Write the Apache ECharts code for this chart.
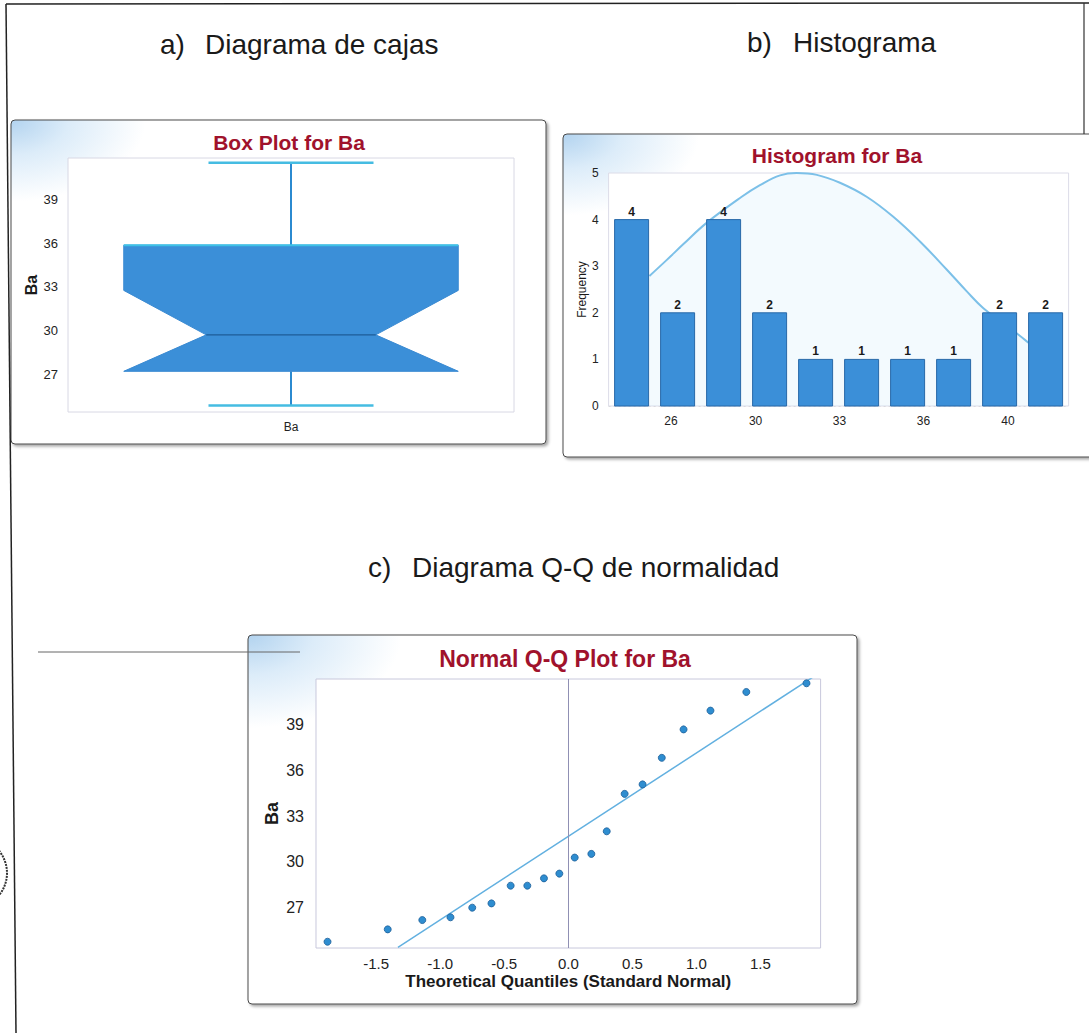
<!DOCTYPE html>
<html>
<head>
<meta charset="utf-8">
<script src="https://cdn.jsdelivr.net/npm/echarts@6/dist/echarts.min.js"></script>
<style>
html,body{margin:0;padding:0;background:#ffffff;}
#c{width:1089px;height:1033px;}
</style>
</head>
<body>
<div id="c"></div>
<script>
// ---------- Data ----------
// a) Box plot for Ba: lower whisker, Q1, notch low, median, notch high, Q3, upper whisker
const boxCategories = ['Ba'];
const boxStats = [24.85, 27.2, 27.2, 29.7, 32.75, 35.85, 41.5];
const boxTicks = [27, 30, 33, 36, 39];

// b) Histogram for Ba
const binEdges = [24.8, 26.49, 28.18, 29.87, 31.56, 33.25, 34.94, 36.63, 38.32, 40.01, 41.7];
const binCounts = [4, 2, 4, 2, 1, 1, 1, 1, 2, 2];
const histTickPos = [27.09, 30.2, 33.28, 36.37, 39.47];
const histTickLabels = ['26', '30', '33', '36', '40'];
const curveX = [26.30, 26.93, 27.54, 28.40, 29.69, 30.36, 31.10, 31.71, 32.45, 33.30, 34.28, 35.26, 36.24, 37.22, 37.96, 38.57, 39.79, 40.22];
const curveY = [2.79, 3.13, 3.47, 3.93, 4.49, 4.74, 4.95, 5.00, 4.96, 4.79, 4.49, 4.06, 3.53, 2.93, 2.46, 2.10, 1.56, 1.36];

// c) Normal Q-Q plot for Ba
const qqTheoretical = [-1.88, -1.41, -1.14, -0.92, -0.75, -0.60, -0.45, -0.32, -0.19, -0.07, 0.05, 0.18, 0.30, 0.44, 0.58, 0.73, 0.90, 1.11, 1.39, 1.86];
const qqBa = [24.77, 25.58, 26.19, 26.37, 27.00, 27.28, 28.44, 28.44, 28.92, 29.23, 30.28, 30.52, 32.00, 34.45, 35.07, 36.81, 38.67, 39.90, 41.12, 41.69];
const qqLineX = [-1.33, 1.92];
const qqLineY = [24.40, 42.15];
const qqXTicks = [-1.5, -1.0, -0.5, 0.0, 0.5, 1.0, 1.5];
const qqYTicks = [27, 30, 33, 36, 39];

// ---------- Styling ----------
const SANS = '"Liberation Sans", Arial, sans-serif';
const NARROW = '"Liberation Sans Narrow", "Arial Narrow", "Liberation Sans", sans-serif';
const TITLE_RED = '#a0122c';
const BAR_BLUE = '#3b8fd8';
const GRID_LINE = {color: '#d6d6d6', type: [2, 3], width: 1};

const chart = echarts.init(document.getElementById('c'), null, {renderer: 'svg'});

function glow() {
  return {type: 'radial', x: 0, y: 0, r: 0.36, colorStops: [
    {offset: 0, color: '#b2d3ef'}, {offset: 0.3, color: '#dcecf9'}, {offset: 0.7, color: '#ffffff'}, {offset: 1, color: '#ffffff'}]};
}
function panel(x, y, w, h) {
  return {type: 'rect', z: -1, shape: {x: x, y: y, width: w, height: h, r: 4},
    style: {fill: glow(), stroke: '#4a4a4a', lineWidth: 1, shadowBlur: 3, shadowOffsetX: 2, shadowOffsetY: 2, shadowColor: 'rgba(0,0,0,0.35)'}};
}
function txt(x, y, text, font, fill, align) {
  return {type: 'text', z: 5, x: x, y: y, style: {text: text, font: font, fill: fill,
    align: align || 'center', textAlign: align || 'center', verticalAlign: 'middle', textVerticalAlign: 'middle'}};
}
function line(x1, y1, x2, y2, color, w) {
  return {type: 'line', z: 0, shape: {x1: x1, y1: y1, x2: x2, y2: y2}, style: {stroke: color, lineWidth: w}};
}

// ---------- Render functions ----------
function renderBox(params, api) {
  const cat = api.value(0);
  const lw = api.value(1), q1 = api.value(2), nl = api.value(3), med = api.value(4),
        nh = api.value(5), q3 = api.value(6), uw = api.value(7);
  const cx = api.coord([cat, med])[0];
  const band = api.size([1, 0])[0];
  const Y = v => api.coord([cat, v])[1];
  const bw = band * 0.375, nw = band * 0.19, cw = band * 0.185;
  return {type: 'group', children: [
    {type: 'line', shape: {x1: cx, y1: Y(uw), x2: cx, y2: Y(q3)}, style: {stroke: '#2b8ad0', lineWidth: 2}},
    {type: 'line', shape: {x1: cx, y1: Y(q1), x2: cx, y2: Y(lw)}, style: {stroke: '#2b8ad0', lineWidth: 2}},
    {type: 'line', shape: {x1: cx - cw, y1: Y(uw), x2: cx + cw, y2: Y(uw)}, style: {stroke: '#45bce2', lineWidth: 2.5}},
    {type: 'line', shape: {x1: cx - cw, y1: Y(lw), x2: cx + cw, y2: Y(lw)}, style: {stroke: '#45bce2', lineWidth: 2.5}},
    {type: 'polygon', shape: {points: [
      [cx - bw, Y(q3)], [cx + bw, Y(q3)], [cx + bw, Y(nh)], [cx + nw, Y(med)],
      [cx + bw, Y(nl)], [cx + bw, Y(q1)], [cx - bw, Y(q1)], [cx - bw, Y(nl)],
      [cx - nw, Y(med)], [cx - bw, Y(nh)]]},
      style: {fill: BAR_BLUE, stroke: '#3a8ad2', lineWidth: 1}},
    {type: 'line', shape: {x1: cx - bw, y1: Y(q3), x2: cx + bw, y2: Y(q3)}, style: {stroke: '#3fc2e6', lineWidth: 2}},
    {type: 'line', shape: {x1: cx - nw, y1: Y(med), x2: cx + nw, y2: Y(med)}, style: {stroke: '#1e5c98', lineWidth: 1.2}}
  ]};
}

function renderBar(params, api) {
  const l = api.value(0), r = api.value(1), n = api.value(2);
  const p0 = api.coord([l, 0]), p1 = api.coord([r, n]);
  const pad = 6;
  const x = p0[0] + pad, w = p1[0] - p0[0] - 2 * pad;
  return {type: 'group', children: [
    {type: 'rect', shape: {x: x, y: p1[1], width: w, height: p0[1] - p1[1]},
      style: {fill: BAR_BLUE, stroke: '#2868a8', lineWidth: 1}},
    {type: 'text', x: x + w / 2, y: p1[1] - 2,
      style: {text: String(n), font: 'bold 12px ' + NARROW, fill: '#1a1a1a',
        align: 'center', textAlign: 'center', verticalAlign: 'bottom', textVerticalAlign: 'bottom'}}
  ]};
}

const boxData = [[0].concat(boxStats)];
const histData = binCounts.map((c, i) => [binEdges[i], binEdges[i + 1], c]);
const curveData = curveX.map((x, i) => [x, curveY[i]]);
const qqData = qqTheoretical.map((x, i) => [x, qqBa[i]]);
const qqLineData = qqLineX.map((x, i) => [x, qqLineY[i]]);

function nearestLabel(v) {
  let best = 0;
  for (let i = 1; i < histTickPos.length; i++) {
    if (Math.abs(histTickPos[i] - v) < Math.abs(histTickPos[best] - v)) best = i;
  }
  return histTickLabels[best];
}

const option = {
  animation: false,
  backgroundColor: '#ffffff',
  grid: [
    {left: 68, top: 158, width: 446, height: 254, show: true, backgroundColor: '#ffffff', borderColor: '#d8d8e4', borderWidth: 1, z: 1},
    {left: 608.6, top: 173, width: 460, height: 233, show: true, backgroundColor: '#ffffff', borderColor: '#dcdce8', borderWidth: 1, z: 1},
    {left: 316, top: 679, width: 504.6, height: 269, show: true, backgroundColor: '#ffffff', borderColor: '#c8c8dc', borderWidth: 1, z: 1}
  ],
  xAxis: [
    {gridIndex: 0, type: 'category', data: boxCategories,
      axisLine: {show: false}, axisTick: {show: false},
      axisLabel: {margin: 9, fontSize: 12, fontFamily: NARROW, color: '#222'}, splitLine: {show: false}},
    {gridIndex: 1, type: 'value', min: binEdges[0], max: binEdges[binEdges.length - 1],
      axisLine: {show: false}, axisTick: {show: false, customValues: histTickPos},
      axisLabel: {customValues: histTickPos, formatter: nearestLabel, margin: 9, fontSize: 12, fontFamily: NARROW, color: '#222'},
      splitLine: {show: true, lineStyle: GRID_LINE}},
    {gridIndex: 2, type: 'value', min: -1.97, max: 1.97,
      axisLine: {show: false}, axisTick: {show: false, customValues: qqXTicks},
      axisLabel: {customValues: qqXTicks, formatter: v => v.toFixed(1), margin: 8, fontSize: 15, fontFamily: NARROW, color: '#222'},
      splitLine: {show: true, lineStyle: GRID_LINE},
      name: 'Theoretical Quantiles (Standard Normal)', nameLocation: 'middle', nameGap: 25,
      nameTextStyle: {fontFamily: SANS, fontWeight: 'bold', fontSize: 17, color: '#1a1a1a'}}
  ],
  yAxis: [
    {gridIndex: 0, type: 'value', min: 24.41, max: 41.83,
      axisLine: {show: false}, axisTick: {show: false, customValues: boxTicks},
      axisLabel: {customValues: boxTicks, margin: 10, fontSize: 13, fontFamily: NARROW, color: '#222'},
      splitLine: {show: true, lineStyle: GRID_LINE},
      name: 'Ba', nameLocation: 'middle', nameGap: 29,
      nameTextStyle: {fontFamily: SANS, fontWeight: 'bold', fontSize: 16, color: '#1a1a1a'}},
    {gridIndex: 1, type: 'value', min: 0, max: 5, interval: 1,
      axisLine: {show: false}, axisTick: {show: false},
      axisLabel: {margin: 10, fontSize: 12, fontFamily: NARROW, color: '#222'},
      splitLine: {show: true, lineStyle: GRID_LINE},
      name: 'Frequency', nameLocation: 'middle', nameGap: 20,
      nameTextStyle: {fontFamily: SANS, fontSize: 12, color: '#1a1a1a'}},
    {gridIndex: 2, type: 'value', min: 24.36, max: 41.97,
      axisLine: {show: false}, axisTick: {show: false, customValues: qqYTicks},
      axisLabel: {customValues: qqYTicks, margin: 12, fontSize: 16, fontFamily: NARROW, color: '#222'},
      splitLine: {show: true, lineStyle: GRID_LINE},
      name: 'Ba', nameLocation: 'middle', nameGap: 35,
      nameTextStyle: {fontFamily: SANS, fontWeight: 'bold', fontSize: 18, color: '#1a1a1a'}}
  ],
  series: [
    {type: 'custom', xAxisIndex: 0, yAxisIndex: 0, data: boxData, renderItem: renderBox,
      encode: {x: 0, y: [1, 2, 3, 4, 5, 6, 7]}, z: 3},
    {type: 'line', xAxisIndex: 1, yAxisIndex: 1, data: curveData, smooth: 0.4, showSymbol: false,
      lineStyle: {color: '#7cc0e8', width: 2}, areaStyle: {color: 'rgba(200,232,248,0.3)'}, z: 2},
    {type: 'custom', xAxisIndex: 1, yAxisIndex: 1, data: histData, renderItem: renderBar,
      encode: {x: [0, 1], y: 2}, z: 3},
    {type: 'line', xAxisIndex: 2, yAxisIndex: 2, data: qqLineData, showSymbol: false,
      lineStyle: {color: '#62b0e0', width: 1.5}, z: 2,
      markLine: {silent: true, symbol: 'none', label: {show: false}, animation: false,
        lineStyle: {color: '#9090b4', width: 1, type: 'solid'}, data: [{xAxis: 0}]}},
    {type: 'scatter', xAxisIndex: 2, yAxisIndex: 2, data: qqData, symbolSize: 7,
      itemStyle: {color: '#2e8dd0', borderColor: '#1d5e98', borderWidth: 0.8, opacity: 1}, z: 4}
  ],
  graphic: {elements: [
    // outer page frame (scanned document)
    line(6, 4, 1089, 3, '#222', 1.5),
    line(6, 4, 16, 1033, '#222', 1.5),
    line(1084, 3, 1084, 134, '#333', 1.2),
    line(38, 652, 300, 652, '#666', 1),
    {type: 'arc', z: 0, shape: {cx: -28, cy: 873, r: 35, startAngle: -0.95, endAngle: 0.95},
      style: {stroke: '#333', lineWidth: 2, lineDash: [2, 1], fill: null}},
    // panels
    panel(11, 120, 535, 324),
    panel(563, 134, 540, 323),
    panel(248, 635, 609, 369),
    // panel titles
    txt(289, 142, 'Box Plot for Ba', 'bold 21px ' + SANS, TITLE_RED),
    txt(837, 155, 'Histogram for Ba', 'bold 21px ' + SANS, TITLE_RED),
    txt(565, 659, 'Normal Q-Q Plot for Ba', 'bold 23px ' + SANS, TITLE_RED),
    // captions
    txt(160, 44, 'a)', '28px ' + SANS, '#1a1a1a', 'left'),
    txt(205, 44, 'Diagrama de cajas', '28px ' + SANS, '#1a1a1a', 'left'),
    txt(747, 42, 'b)', '28px ' + SANS, '#1a1a1a', 'left'),
    txt(793, 42, 'Histograma', '28px ' + SANS, '#1a1a1a', 'left'),
    txt(368, 567, 'c)', '28px ' + SANS, '#1a1a1a', 'left'),
    txt(412, 567, 'Diagrama Q-Q de normalidad', '28px ' + SANS, '#1a1a1a', 'left')
  ]}
};
chart.setOption(option);
</script>
</body>
</html>
